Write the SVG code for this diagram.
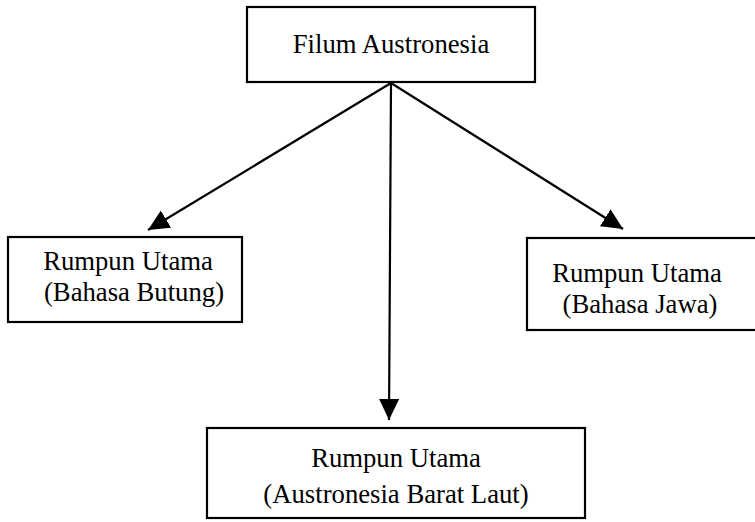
<svg xmlns="http://www.w3.org/2000/svg" width="755" height="522" viewBox="0 0 755 522">
<style>
.box{fill:#fff;stroke:#000;stroke-width:2.2}
.t{font-family:"Liberation Serif","Times New Roman",serif;font-size:26.7px;fill:#000;text-anchor:middle}
.c{stroke:#000;stroke-width:2.2;fill:none}
</style>
<defs>
<marker id="ah" markerUnits="userSpaceOnUse" markerWidth="24" markerHeight="20" refX="21" refY="10" orient="auto">
<path d="M0,0 L21,10 L0,20 Z" fill="#000"/>
</marker>
</defs>
<rect width="755" height="522" fill="#fff"/>
<g id="connectors">
<line class="c" x1="391" y1="83" x2="148" y2="230" marker-end="url(#ah)"/>
<line class="c" x1="391" y1="83" x2="389" y2="420" marker-end="url(#ah)"/>
<line class="c" x1="391" y1="83" x2="623" y2="229" marker-end="url(#ah)"/>
</g>
<g id="filum">
<rect class="box" x="247" y="7" width="288" height="75"/>
<text class="t" x="391" y="53">Filum Austronesia</text>
</g>
<g id="butung">
<rect class="box" x="8" y="237" width="234" height="85"/>
<text class="t" x="128" y="270">Rumpun Utama</text>
<text class="t" x="134" y="301">(Bahasa Butung)</text>
</g>
<g id="jawa">
<rect class="box" x="527" y="238" width="240" height="92"/>
<text class="t" x="637" y="282">Rumpun Utama</text>
<text class="t" x="640" y="313">(Bahasa Jawa)</text>
</g>
<g id="barat">
<rect class="box" x="207" y="428" width="378" height="90"/>
<text class="t" x="396" y="467">Rumpun Utama</text>
<text class="t" x="396" y="503">(Austronesia Barat Laut)</text>
</g>
</svg>
